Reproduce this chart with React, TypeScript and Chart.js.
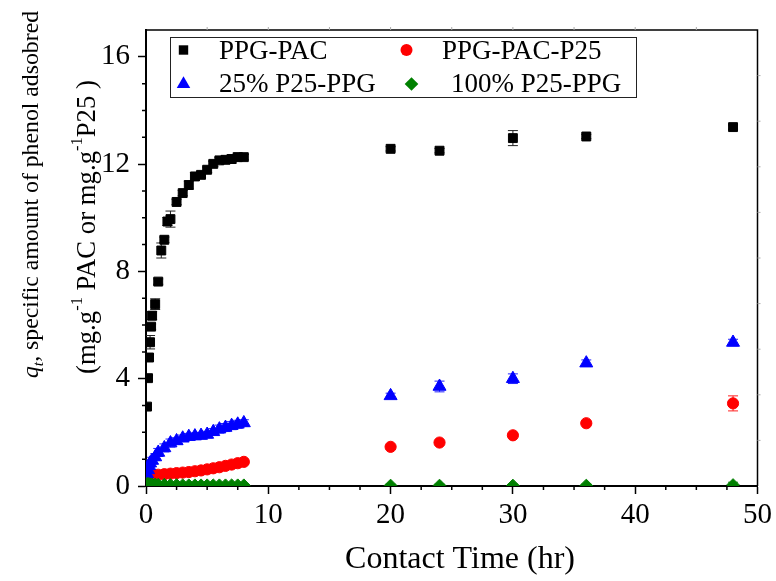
import React, { useEffect, useRef } from "react";
import { Chart, registerables } from "chart.js";

Chart.register(...registerables);

const FONT = "'Liberation Serif', 'Times New Roman', Times, serif";

const seriesNames = ["PPG-PAC", "PPG-PAC-P25", "25% P25-PPG", "100% P25-PPG"];
const seriesColors = ["#000000", "#ff0000", "#0000ff", "#008000"];
const errorColors = ["#222222", "#ff2020", "#2020ff", "#1a8a1a"];

const xTickValues = [0, 10, 20, 30, 40, 50];
const yTickValues = [0, 4, 8, 12, 16];

const pacTime = [0.083, 0.167, 0.25, 0.333, 0.417, 0.5, 0.75, 1, 1.25, 1.5, 1.75, 2, 2.5, 3, 3.5, 4, 4.5, 5, 5.5, 6, 6.5, 7, 7.5, 8, 20, 24, 30, 36, 48];
const pacValues = [2.96, 4.02, 4.79, 5.36, 5.94, 6.35, 6.78, 7.62, 8.78, 9.18, 9.86, 9.95, 10.59, 10.92, 11.22, 11.54, 11.6, 11.79, 12.01, 12.14, 12.16, 12.19, 12.26, 12.26, 12.57, 12.5, 12.97, 13.03, 13.38];
const pacErrors = [0.1, 0.1, 0.12, 0.25, 0.1, 0.15, 0.2, 0.1, 0.28, 0.1, 0.15, 0.3, 0.1, 0.1, 0.15, 0.15, 0.1, 0.1, 0.1, 0.1, 0.12, 0.15, 0.15, 0.1, 0.08, 0.08, 0.28, 0.08, 0.08];

const otherTime = [0.083, 0.167, 0.25, 0.333, 0.5, 0.75, 1, 1.5, 2, 2.5, 3, 3.5, 4, 4.5, 5, 5.5, 6, 6.5, 7, 7.5, 8, 20, 24, 30, 36, 48];
const pacP25Values = [0.3, 0.33, 0.35, 0.37, 0.39, 0.4, 0.42, 0.44, 0.46, 0.48, 0.5, 0.52, 0.55, 0.58, 0.62, 0.66, 0.7, 0.75, 0.8, 0.85, 0.9, 1.46, 1.62, 1.89, 2.34, 3.08];
const pacP25Errors = [0.05, 0.05, 0.05, 0.05, 0.06, 0.06, 0.06, 0.06, 0.07, 0.07, 0.07, 0.07, 0.08, 0.08, 0.08, 0.08, 0.08, 0.08, 0.09, 0.09, 0.09, 0.05, 0.05, 0.06, 0.06, 0.28];
const p25_25Values = [0.45, 0.6, 0.75, 0.85, 0.95, 1.08, 1.25, 1.42, 1.6, 1.68, 1.78, 1.84, 1.86, 1.88, 1.92, 2.02, 2.12, 2.18, 2.25, 2.3, 2.35, 3.36, 3.71, 4.0, 4.58, 5.35];
const p25_25Errors = [0.1, 0.1, 0.12, 0.12, 0.12, 0.12, 0.15, 0.15, 0.15, 0.12, 0.12, 0.12, 0.12, 0.12, 0.12, 0.12, 0.15, 0.15, 0.15, 0.15, 0.12, 0.1, 0.2, 0.18, 0.12, 0.12];
const p25_100Values = [0.08, 0.08, 0.07, 0.07, 0.06, 0.06, 0.05, 0.05, 0.04, 0.04, 0.03, 0.03, 0.03, 0.03, 0.03, 0.03, 0.03, 0.03, 0.03, 0.03, 0.03, 0.02, 0.02, 0.02, 0.02, 0.04];
const p25_100Errors = [0.05, 0.05, 0.05, 0.05, 0.05, 0.05, 0.05, 0.05, 0.05, 0.05, 0.05, 0.05, 0.05, 0.05, 0.05, 0.05, 0.05, 0.05, 0.06, 0.06, 0.06, 0.05, 0.05, 0.05, 0.05, 0.1];

const errorSets = [pacErrors, pacP25Errors, p25_25Errors, p25_100Errors];

type Seg = { t: string; italic?: boolean; size: number; dy?: number };
const yTitleLine1: Seg[] = [
  { t: "q", italic: true, size: 26 },
  { t: "t", italic: true, size: 17, dy: 6 },
  { t: ", specific amount of phenol adsobred", size: 26 },
];
const yTitleLine2: Seg[] = [
  { t: "(mg.g", size: 26 },
  { t: "-1", size: 16, dy: -13 },
  { t: " PAC or mg.g", size: 26 },
  { t: "-1", size: 16, dy: -13 },
  { t: "P25 )", size: 26 },
];

function drawShape(ctx: CanvasRenderingContext2D, kind: number, cx: number, cy: number) {
  ctx.fillStyle = seriesColors[kind];
  ctx.beginPath();
  if (kind === 0) {
    ctx.rect(cx - 4.7, cy - 4.7, 9.4, 9.4);
  } else if (kind === 1) {
    ctx.arc(cx, cy, 6, 0, Math.PI * 2);
  } else if (kind === 2) {
    const r = 7.8;
    ctx.moveTo(cx, cy - r);
    ctx.lineTo(cx + r * 0.866, cy + r * 0.5);
    ctx.lineTo(cx - r * 0.866, cy + r * 0.5);
    ctx.closePath();
  } else {
    const r = 6.8;
    ctx.moveTo(cx, cy - r);
    ctx.lineTo(cx + r, cy);
    ctx.lineTo(cx, cy + r);
    ctx.lineTo(cx - r, cy);
    ctx.closePath();
  }
  ctx.fill();
}

function drawRich(ctx: CanvasRenderingContext2D, segs: Seg[], x: number, y: number, targetLen: number) {
  ctx.save();
  // measure total length at nominal size, then scale to fit the target
  let total = 0;
  for (const s of segs) {
    ctx.font = `${s.italic ? "italic " : ""}${s.size}px ${FONT}`;
    total += ctx.measureText(s.t).width;
  }
  const k = targetLen / total;
  ctx.translate(x, y);
  ctx.rotate(-Math.PI / 2);
  ctx.fillStyle = "#000";
  ctx.textBaseline = "alphabetic";
  ctx.textAlign = "left";
  let cur = 0;
  for (const s of segs) {
    ctx.font = `${s.italic ? "italic " : ""}${(s.size * k).toFixed(2)}px ${FONT}`;
    ctx.fillText(s.t, cur, (s.dy || 0) * k);
    cur += ctx.measureText(s.t).width;
  }
  ctx.restore();
}

const decor = {
  id: "decor",
  beforeDatasetsDraw(chart: any) {
    const ctx: CanvasRenderingContext2D = chart.ctx;
    const xs = chart.scales.x;
    const ys = chart.scales.y;
    const a = chart.chartArea;
    ctx.save();
    ctx.beginPath();
    ctx.rect(a.left, a.top, a.right - a.left, a.bottom - a.top);
    ctx.clip();
    ctx.lineWidth = 1;
    chart.data.datasets.forEach((ds: any, di: number) => {
      const e = errorSets[di];
      ctx.strokeStyle = errorColors[di];
      ds.data.forEach((p: any, i: number) => {
        const px = xs.getPixelForValue(p.x);
        const y1 = ys.getPixelForValue(p.y + e[i]);
        const y2 = ys.getPixelForValue(p.y - e[i]);
        ctx.beginPath();
        ctx.moveTo(px, y1);
        ctx.lineTo(px, y2);
        ctx.moveTo(px - 5, y1);
        ctx.lineTo(px + 5, y1);
        ctx.moveTo(px - 5, y2);
        ctx.lineTo(px + 5, y2);
        ctx.stroke();
      });
    });
    ctx.restore();
  },
  afterDraw(chart: any) {
    const ctx: CanvasRenderingContext2D = chart.ctx;
    const xs = chart.scales.x;
    const ys = chart.scales.y;
    const a = chart.chartArea;
    ctx.save();
    // top & right frame
    ctx.strokeStyle = "#000";
    ctx.lineWidth = 1.5;
    ctx.beginPath();
    ctx.moveTo(a.left, a.top);
    ctx.lineTo(a.right, a.top);
    ctx.lineTo(a.right, a.bottom);
    ctx.stroke();
    // minor ticks
    ctx.lineWidth = 1.5;
    ctx.beginPath();
    for (let v = 2.5; v < 50; v += 2.5) {
      if (v % 10 === 0) continue;
      const px = xs.getPixelForValue(v);
      ctx.moveTo(px, a.bottom);
      ctx.lineTo(px, a.bottom + 4);
    }
    for (let v = 1; v < 17; v += 1) {
      if (v % 4 === 0) continue;
      const py = ys.getPixelForValue(v);
      ctx.moveTo(a.left, py);
      ctx.lineTo(a.left - 4, py);
    }
    ctx.stroke();
    // faint top/right ticks
    ctx.strokeStyle = "#aaaaaa";
    ctx.lineWidth = 1;
    ctx.beginPath();
    for (let v = 5; v < 50; v += 5) {
      const px = xs.getPixelForValue(v);
      ctx.moveTo(px, a.top);
      ctx.lineTo(px, a.top - 3);
    }
    for (let k = 1; k < 10; k++) {
      const py = ys.getPixelForValue(k * 1.7);
      ctx.moveTo(a.right, py);
      ctx.lineTo(a.right + 3, py);
    }
    ctx.stroke();
    // legend box
    ctx.strokeStyle = "#222";
    ctx.lineWidth = 1;
    ctx.strokeRect(170.5, 37.5, 466, 60);
    drawShape(ctx, 0, 183.5, 50);
    drawShape(ctx, 1, 406.5, 50);
    drawShape(ctx, 2, 183.5, 84);
    drawShape(ctx, 3, 411.5, 84);
    ctx.fillStyle = "#000";
    ctx.font = `27px ${FONT}`;
    ctx.textBaseline = "alphabetic";
    ctx.textAlign = "left";
    ctx.fillText(seriesNames[0], 219, 58.5);
    ctx.fillText(seriesNames[1], 442, 58.5);
    ctx.fillText(seriesNames[2], 219, 92);
    ctx.fillText(seriesNames[3], 451, 92);
    // x title
    ctx.font = `32px ${FONT}`;
    ctx.textAlign = "center";
    ctx.fillText("Contact Time (hr)", 460, 568);
    // y title
    drawRich(ctx, yTitleLine1, 38, 378, 367);
    drawRich(ctx, yTitleLine2, 95, 374, 294);
    ctx.restore();
  },
};

export default function App() {
  const ref = useRef<HTMLCanvasElement>(null);
  useEffect(() => {
    document.body.style.margin = "0";
    const canvas = ref.current!;
    const mk = (x: number[], y: number[]) => x.map((t, i) => ({ x: t, y: y[i] }));
    const tickFont = { family: FONT, size: 29 };
    const chart = new Chart(canvas, {
      type: "scatter",
      data: {
        datasets: [
          { label: seriesNames[0], data: mk(pacTime, pacValues), pointStyle: "rect", pointRadius: 6.3, backgroundColor: seriesColors[0], borderColor: seriesColors[0], borderWidth: 1, order: 3 },
          { label: seriesNames[1], data: mk(otherTime, pacP25Values), pointStyle: "circle", pointRadius: 5.6, backgroundColor: seriesColors[1], borderColor: seriesColors[1], borderWidth: 1, order: 2 },
          { label: seriesNames[2], data: mk(otherTime, p25_25Values), pointStyle: "triangle", pointRadius: 7.5, backgroundColor: seriesColors[2], borderColor: seriesColors[2], borderWidth: 1, order: 1 },
          { label: seriesNames[3], data: mk(otherTime, p25_100Values), pointStyle: "rectRot", pointRadius: 6.3, backgroundColor: seriesColors[3], borderColor: seriesColors[3], borderWidth: 1, order: 0 },
        ],
      },
      options: {
        responsive: false,
        animation: false,
        devicePixelRatio: 1,
        layout: { padding: { top: 30, right: 18, left: 0, bottom: 0 } },
        plugins: { legend: { display: false }, tooltip: { enabled: false } },
        scales: {
          x: {
            type: "linear",
            position: "bottom",
            min: 0,
            max: 50,
            afterFit: (s: any) => { s.height = 95; },
            afterBuildTicks: (s: any) => { s.ticks = xTickValues.map((v) => ({ value: v })); },
            ticks: { font: tickFont, color: "#000", padding: 4, maxRotation: 0 },
            grid: { display: true, drawOnChartArea: false, tickLength: 8, tickColor: "#000", tickWidth: 1.5 },
            border: { display: true, color: "#000", width: 2 },
          },
          y: {
            type: "linear",
            position: "left",
            min: 0,
            max: 17,
            afterFit: (s: any) => { s.width = 146; },
            afterBuildTicks: (s: any) => { s.ticks = yTickValues.map((v) => ({ value: v })); },
            ticks: { font: tickFont, color: "#000", padding: 8 },
            grid: { display: true, drawOnChartArea: false, tickLength: 8, tickColor: "#000", tickWidth: 1.5 },
            border: { display: true, color: "#000", width: 2 },
          },
        },
      } as any,
      plugins: [decor],
    });
    return () => chart.destroy();
  }, []);
  return (
    <div style={{ width: 776, height: 581 }}>
      <canvas ref={ref} width={776} height={581} />
    </div>
  );
}
